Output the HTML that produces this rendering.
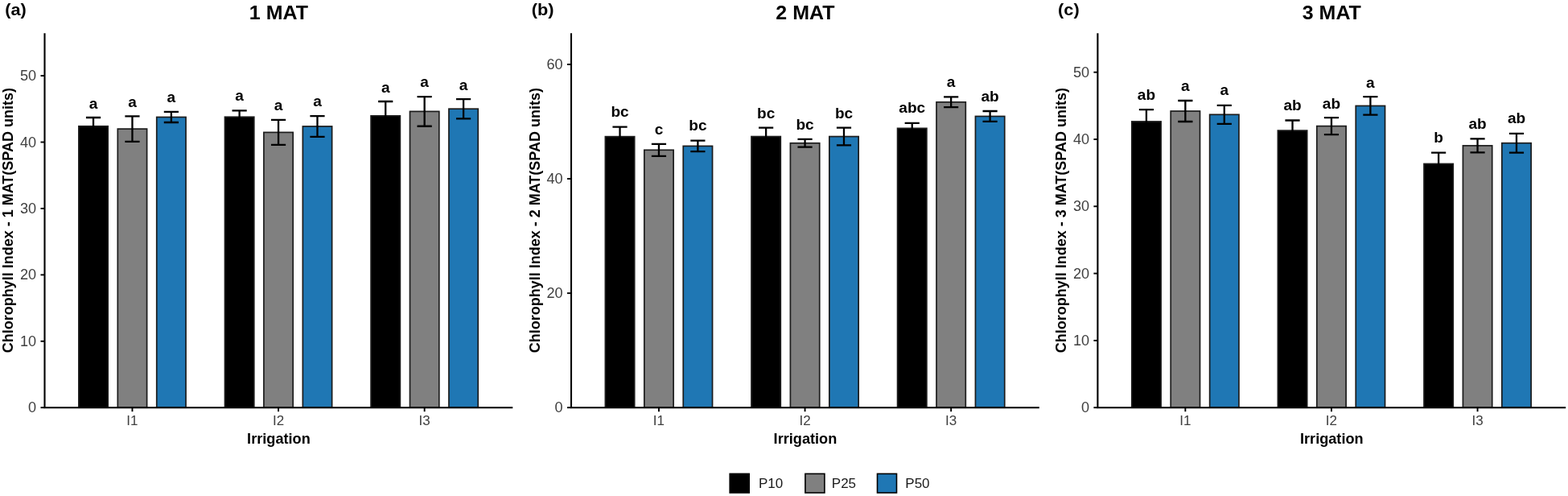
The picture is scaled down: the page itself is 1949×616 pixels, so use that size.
<!DOCTYPE html>
<html><head><meta charset="utf-8"><title>Chlorophyll Index</title>
<style>
html,body{margin:0;padding:0;background:#fff;}
body{width:1949px;height:616px;overflow:hidden;}
svg{display:block;}
text{font-family:'Liberation Sans', Arial, Helvetica, sans-serif;}
.lab{font-size:18.5px;font-weight:bold;fill:#000;text-anchor:middle;}
.yt{font-size:17.8px;fill:#404040;text-anchor:end;}
.xt{font-size:17px;fill:#404040;text-anchor:middle;}
.xl{font-size:17.8px;font-weight:bold;fill:#000;text-anchor:middle;}
.ti{font-size:24.5px;font-weight:bold;fill:#000;text-anchor:middle;}
.tag{font-size:20.5px;font-weight:bold;fill:#000;}
.yl{font-size:18px;font-weight:bold;fill:#000;text-anchor:middle;}
.lg{font-size:17px;fill:#1a1a1a;}
</style></head>
<body><svg width="1949" height="616" viewBox="0 0 1949 616">
<rect width="1949" height="616" fill="#fff"/>
<rect x="97.88" y="156.75" width="36.30" height="349.45" fill="#000000" stroke="#1c1c1c" stroke-width="1.7"/>
<rect x="146.31" y="160.10" width="36.30" height="346.10" fill="#808080" stroke="#1c1c1c" stroke-width="1.7"/>
<rect x="194.74" y="145.45" width="36.30" height="360.75" fill="#1f77b4" stroke="#1c1c1c" stroke-width="1.7"/>
<rect x="279.48" y="145.25" width="36.30" height="360.95" fill="#000000" stroke="#1c1c1c" stroke-width="1.7"/>
<rect x="327.91" y="164.40" width="36.30" height="341.80" fill="#808080" stroke="#1c1c1c" stroke-width="1.7"/>
<rect x="376.34" y="156.95" width="36.30" height="349.25" fill="#1f77b4" stroke="#1c1c1c" stroke-width="1.7"/>
<rect x="461.08" y="143.85" width="36.30" height="362.35" fill="#000000" stroke="#1c1c1c" stroke-width="1.7"/>
<rect x="509.51" y="138.40" width="36.30" height="367.80" fill="#808080" stroke="#1c1c1c" stroke-width="1.7"/>
<rect x="557.94" y="135.20" width="36.30" height="371.00" fill="#1f77b4" stroke="#1c1c1c" stroke-width="1.7"/>
<path d="M106.93 146.00H125.13M116.03 146.00V167.50M106.93 167.50H125.13" stroke="#000" stroke-width="2.3" fill="none"/>
<text transform="translate(116.03 134.55) scale(1.03 1)" class="lab">a</text>
<path d="M155.36 144.40H173.56M164.46 144.40V175.80M155.36 175.80H173.56" stroke="#000" stroke-width="2.3" fill="none"/>
<text transform="translate(164.46 132.55) scale(1.03 1)" class="lab">a</text>
<path d="M203.79 138.90H221.99M212.89 138.90V152.00M203.79 152.00H221.99" stroke="#000" stroke-width="2.3" fill="none"/>
<text transform="translate(212.89 127.05) scale(1.03 1)" class="lab">a</text>
<path d="M288.53 137.30H306.73M297.63 137.30V153.20M288.53 153.20H306.73" stroke="#000" stroke-width="2.3" fill="none"/>
<text transform="translate(297.63 125.45) scale(1.03 1)" class="lab">a</text>
<path d="M336.96 148.90H355.16M346.06 148.90V179.90M336.96 179.90H355.16" stroke="#000" stroke-width="2.3" fill="none"/>
<text transform="translate(346.06 137.35) scale(1.03 1)" class="lab">a</text>
<path d="M385.39 144.05H403.59M394.49 144.05V169.85M385.39 169.85H403.59" stroke="#000" stroke-width="2.3" fill="none"/>
<text transform="translate(394.49 131.90) scale(1.03 1)" class="lab">a</text>
<path d="M470.13 126.00H488.33M479.23 126.00V161.70M470.13 161.70H488.33" stroke="#000" stroke-width="2.3" fill="none"/>
<text transform="translate(479.23 114.75) scale(1.03 1)" class="lab">a</text>
<path d="M518.56 120.05H536.76M527.66 120.05V156.75M518.56 156.75H536.76" stroke="#000" stroke-width="2.3" fill="none"/>
<text transform="translate(527.66 108.20) scale(1.03 1)" class="lab">a</text>
<path d="M566.99 123.10H585.19M576.09 123.10V147.30M566.99 147.30H585.19" stroke="#000" stroke-width="2.3" fill="none"/>
<text transform="translate(576.09 111.65) scale(1.03 1)" class="lab">a</text>
<path d="M55.50 41.20V506.20H637.32" stroke="#000000" stroke-width="2.1" fill="none"/>
<path d="M50.50 506.20H55.50" stroke="#000000" stroke-width="1.9"/>
<text transform="translate(45.20 512.20) scale(1.02 1)" class="yt">0</text>
<path d="M50.50 423.78H55.50" stroke="#000000" stroke-width="1.9"/>
<text transform="translate(45.20 429.78) scale(1.02 1)" class="yt">10</text>
<path d="M50.50 341.36H55.50" stroke="#000000" stroke-width="1.9"/>
<text transform="translate(45.20 347.36) scale(1.02 1)" class="yt">20</text>
<path d="M50.50 258.94H55.50" stroke="#000000" stroke-width="1.9"/>
<text transform="translate(45.20 264.94) scale(1.02 1)" class="yt">30</text>
<path d="M50.50 176.52H55.50" stroke="#000000" stroke-width="1.9"/>
<text transform="translate(45.20 182.52) scale(1.02 1)" class="yt">40</text>
<path d="M50.50 94.10H55.50" stroke="#000000" stroke-width="1.9"/>
<text transform="translate(45.20 100.10) scale(1.02 1)" class="yt">50</text>
<path d="M164.46 506.20V511.20" stroke="#000000" stroke-width="1.9"/>
<text transform="translate(164.46 528.30)" class="xt">I1</text>
<path d="M346.06 506.20V511.20" stroke="#000000" stroke-width="1.9"/>
<text transform="translate(346.06 528.30)" class="xt">I2</text>
<path d="M527.66 506.20V511.20" stroke="#000000" stroke-width="1.9"/>
<text transform="translate(527.66 528.30)" class="xt">I3</text>
<text transform="translate(346.41 551.00) scale(1.02 1)" class="xl">Irrigation</text>
<text transform="translate(346.41 24.00) scale(1.02 1)" class="ti">1 MAT</text>
<text transform="translate(6.20 18.90) scale(1.06 1)" class="tag">(a)</text>
<text transform="translate(16.20 273.70) rotate(-90)" class="yl">Chlorophyll Index - 1 MAT(SPAD units)</text>
<rect x="752.38" y="169.65" width="36.30" height="336.55" fill="#000000" stroke="#1c1c1c" stroke-width="1.7"/>
<rect x="800.81" y="186.30" width="36.30" height="319.90" fill="#808080" stroke="#1c1c1c" stroke-width="1.7"/>
<rect x="849.24" y="181.40" width="36.30" height="324.80" fill="#1f77b4" stroke="#1c1c1c" stroke-width="1.7"/>
<rect x="933.98" y="169.55" width="36.30" height="336.65" fill="#000000" stroke="#1c1c1c" stroke-width="1.7"/>
<rect x="982.41" y="177.75" width="36.30" height="328.45" fill="#808080" stroke="#1c1c1c" stroke-width="1.7"/>
<rect x="1030.84" y="169.55" width="36.30" height="336.65" fill="#1f77b4" stroke="#1c1c1c" stroke-width="1.7"/>
<rect x="1115.58" y="159.35" width="36.30" height="346.85" fill="#000000" stroke="#1c1c1c" stroke-width="1.7"/>
<rect x="1164.01" y="126.80" width="36.30" height="379.40" fill="#808080" stroke="#1c1c1c" stroke-width="1.7"/>
<rect x="1212.44" y="144.45" width="36.30" height="361.75" fill="#1f77b4" stroke="#1c1c1c" stroke-width="1.7"/>
<path d="M761.43 157.60H779.63M770.53 157.60V181.70M761.43 181.70H779.63" stroke="#000" stroke-width="2.3" fill="none"/>
<text transform="translate(770.53 145.45) scale(1.03 1)" class="lab">bc</text>
<path d="M809.86 178.80H828.06M818.96 178.80V193.80M809.86 193.80H828.06" stroke="#000" stroke-width="2.3" fill="none"/>
<text transform="translate(818.96 166.75) scale(1.03 1)" class="lab">c</text>
<path d="M858.29 174.60H876.49M867.39 174.60V188.20M858.29 188.20H876.49" stroke="#000" stroke-width="2.3" fill="none"/>
<text transform="translate(867.39 162.35) scale(1.03 1)" class="lab">bc</text>
<path d="M943.03 158.60H961.23M952.13 158.60V180.50M943.03 180.50H961.23" stroke="#000" stroke-width="2.3" fill="none"/>
<text transform="translate(952.13 146.75) scale(1.03 1)" class="lab">bc</text>
<path d="M991.46 172.90H1009.66M1000.56 172.90V182.60M991.46 182.60H1009.66" stroke="#000" stroke-width="2.3" fill="none"/>
<text transform="translate(1000.56 160.75) scale(1.03 1)" class="lab">bc</text>
<path d="M1039.89 158.70H1058.09M1048.99 158.70V180.40M1039.89 180.40H1058.09" stroke="#000" stroke-width="2.3" fill="none"/>
<text transform="translate(1048.99 146.85) scale(1.03 1)" class="lab">bc</text>
<path d="M1124.63 152.90H1142.83M1133.73 152.90V165.80M1124.63 165.80H1142.83" stroke="#000" stroke-width="2.3" fill="none"/>
<text transform="translate(1133.73 140.15) scale(1.03 1)" class="lab">abc</text>
<path d="M1173.06 120.45H1191.26M1182.16 120.45V133.15M1173.06 133.15H1191.26" stroke="#000" stroke-width="2.3" fill="none"/>
<text transform="translate(1182.16 108.40) scale(1.03 1)" class="lab">a</text>
<path d="M1221.49 138.00H1239.69M1230.59 138.00V150.90M1221.49 150.90H1239.69" stroke="#000" stroke-width="2.3" fill="none"/>
<text transform="translate(1230.59 125.75) scale(1.03 1)" class="lab">ab</text>
<path d="M710.00 41.20V506.20H1291.82" stroke="#000000" stroke-width="2.1" fill="none"/>
<path d="M705.00 506.20H710.00" stroke="#000000" stroke-width="1.9"/>
<text transform="translate(699.70 512.20) scale(1.02 1)" class="yt">0</text>
<path d="M705.00 364.13H710.00" stroke="#000000" stroke-width="1.9"/>
<text transform="translate(699.70 370.13) scale(1.02 1)" class="yt">20</text>
<path d="M705.00 222.07H710.00" stroke="#000000" stroke-width="1.9"/>
<text transform="translate(699.70 228.07) scale(1.02 1)" class="yt">40</text>
<path d="M705.00 80.00H710.00" stroke="#000000" stroke-width="1.9"/>
<text transform="translate(699.70 86.00) scale(1.02 1)" class="yt">60</text>
<path d="M818.96 506.20V511.20" stroke="#000000" stroke-width="1.9"/>
<text transform="translate(818.96 528.30)" class="xt">I1</text>
<path d="M1000.56 506.20V511.20" stroke="#000000" stroke-width="1.9"/>
<text transform="translate(1000.56 528.30)" class="xt">I2</text>
<path d="M1182.16 506.20V511.20" stroke="#000000" stroke-width="1.9"/>
<text transform="translate(1182.16 528.30)" class="xt">I3</text>
<text transform="translate(1000.91 551.00) scale(1.02 1)" class="xl">Irrigation</text>
<text transform="translate(1000.91 24.00) scale(1.02 1)" class="ti">2 MAT</text>
<text transform="translate(660.70 18.90) scale(1.06 1)" class="tag">(b)</text>
<text transform="translate(670.70 273.70) rotate(-90)" class="yl">Chlorophyll Index - 2 MAT(SPAD units)</text>
<rect x="1406.78" y="150.95" width="36.30" height="355.25" fill="#000000" stroke="#1c1c1c" stroke-width="1.7"/>
<rect x="1455.21" y="138.00" width="36.30" height="368.20" fill="#808080" stroke="#1c1c1c" stroke-width="1.7"/>
<rect x="1503.64" y="142.30" width="36.30" height="363.90" fill="#1f77b4" stroke="#1c1c1c" stroke-width="1.7"/>
<rect x="1588.38" y="162.10" width="36.30" height="344.10" fill="#000000" stroke="#1c1c1c" stroke-width="1.7"/>
<rect x="1636.81" y="156.60" width="36.30" height="349.60" fill="#808080" stroke="#1c1c1c" stroke-width="1.7"/>
<rect x="1685.24" y="131.45" width="36.30" height="374.75" fill="#1f77b4" stroke="#1c1c1c" stroke-width="1.7"/>
<rect x="1769.98" y="203.45" width="36.30" height="302.75" fill="#000000" stroke="#1c1c1c" stroke-width="1.7"/>
<rect x="1818.41" y="180.90" width="36.30" height="325.30" fill="#808080" stroke="#1c1c1c" stroke-width="1.7"/>
<rect x="1866.84" y="177.70" width="36.30" height="328.50" fill="#1f77b4" stroke="#1c1c1c" stroke-width="1.7"/>
<path d="M1415.83 136.20H1434.03M1424.93 136.20V165.70M1415.83 165.70H1434.03" stroke="#000" stroke-width="2.3" fill="none"/>
<text transform="translate(1424.93 123.85) scale(1.03 1)" class="lab">ab</text>
<path d="M1464.26 125.00H1482.46M1473.36 125.00V151.00M1464.26 151.00H1482.46" stroke="#000" stroke-width="2.3" fill="none"/>
<text transform="translate(1473.36 112.55) scale(1.03 1)" class="lab">a</text>
<path d="M1512.69 130.80H1530.89M1521.79 130.80V153.80M1512.69 153.80H1530.89" stroke="#000" stroke-width="2.3" fill="none"/>
<text transform="translate(1521.79 118.35) scale(1.03 1)" class="lab">a</text>
<path d="M1597.43 149.50H1615.63M1606.53 149.50V174.70M1597.43 174.70H1615.63" stroke="#000" stroke-width="2.3" fill="none"/>
<text transform="translate(1606.53 137.45) scale(1.03 1)" class="lab">ab</text>
<path d="M1645.86 146.10H1664.06M1654.96 146.10V167.10M1645.86 167.10H1664.06" stroke="#000" stroke-width="2.3" fill="none"/>
<text transform="translate(1654.96 134.85) scale(1.03 1)" class="lab">ab</text>
<path d="M1694.29 120.20H1712.49M1703.39 120.20V142.70M1694.29 142.70H1712.49" stroke="#000" stroke-width="2.3" fill="none"/>
<text transform="translate(1703.39 108.85) scale(1.03 1)" class="lab">a</text>
<path d="M1779.03 189.60H1797.23M1788.13 189.60V217.30M1779.03 217.30H1797.23" stroke="#000" stroke-width="2.3" fill="none"/>
<text transform="translate(1788.13 177.15) scale(1.03 1)" class="lab">b</text>
<path d="M1827.46 172.40H1845.66M1836.56 172.40V189.40M1827.46 189.40H1845.66" stroke="#000" stroke-width="2.3" fill="none"/>
<text transform="translate(1836.56 159.65) scale(1.03 1)" class="lab">ab</text>
<path d="M1875.89 165.80H1894.09M1884.99 165.80V189.60M1875.89 189.60H1894.09" stroke="#000" stroke-width="2.3" fill="none"/>
<text transform="translate(1884.99 152.85) scale(1.03 1)" class="lab">ab</text>
<path d="M1364.40 41.20V506.20H1946.22" stroke="#000000" stroke-width="2.1" fill="none"/>
<path d="M1359.40 506.20H1364.40" stroke="#000000" stroke-width="1.9"/>
<text transform="translate(1354.10 512.20) scale(1.02 1)" class="yt">0</text>
<path d="M1359.40 422.90H1364.40" stroke="#000000" stroke-width="1.9"/>
<text transform="translate(1354.10 428.90) scale(1.02 1)" class="yt">10</text>
<path d="M1359.40 339.60H1364.40" stroke="#000000" stroke-width="1.9"/>
<text transform="translate(1354.10 345.60) scale(1.02 1)" class="yt">20</text>
<path d="M1359.40 256.30H1364.40" stroke="#000000" stroke-width="1.9"/>
<text transform="translate(1354.10 262.30) scale(1.02 1)" class="yt">30</text>
<path d="M1359.40 173.00H1364.40" stroke="#000000" stroke-width="1.9"/>
<text transform="translate(1354.10 179.00) scale(1.02 1)" class="yt">40</text>
<path d="M1359.40 89.70H1364.40" stroke="#000000" stroke-width="1.9"/>
<text transform="translate(1354.10 95.70) scale(1.02 1)" class="yt">50</text>
<path d="M1473.36 506.20V511.20" stroke="#000000" stroke-width="1.9"/>
<text transform="translate(1473.36 528.30)" class="xt">I1</text>
<path d="M1654.96 506.20V511.20" stroke="#000000" stroke-width="1.9"/>
<text transform="translate(1654.96 528.30)" class="xt">I2</text>
<path d="M1836.56 506.20V511.20" stroke="#000000" stroke-width="1.9"/>
<text transform="translate(1836.56 528.30)" class="xt">I3</text>
<text transform="translate(1655.31 551.00) scale(1.02 1)" class="xl">Irrigation</text>
<text transform="translate(1655.31 24.00) scale(1.02 1)" class="ti">3 MAT</text>
<text transform="translate(1315.10 18.90) scale(1.06 1)" class="tag">(c)</text>
<text transform="translate(1325.10 273.70) rotate(-90)" class="yl">Chlorophyll Index - 3 MAT(SPAD units)</text>
<rect x="907.20" y="588.4" width="24" height="23.6" fill="#000000" stroke="#000" stroke-width="1.6"/>
<text transform="translate(943.00 606.00)" class="lg">P10</text>
<rect x="1000.90" y="588.4" width="24" height="23.6" fill="#808080" stroke="#000" stroke-width="1.6"/>
<text transform="translate(1033.80 606.00)" class="lg">P25</text>
<rect x="1090.50" y="588.4" width="24" height="23.6" fill="#1f77b4" stroke="#000" stroke-width="1.6"/>
<text transform="translate(1125.30 606.00)" class="lg">P50</text>
</svg></body></html>
